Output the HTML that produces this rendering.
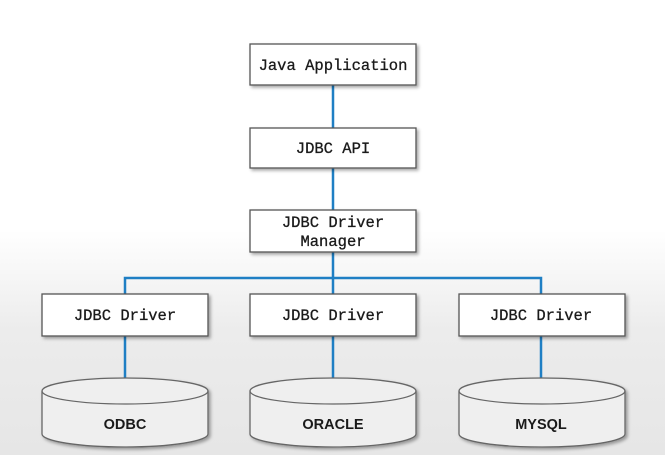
<!DOCTYPE html>
<html><head><style>
html,body{margin:0;padding:0}
body{width:665px;height:455px;overflow:hidden;background:linear-gradient(#ffffff 0px,#ffffff 230px,#ececec 330px,#e6e6e6 455px);}
</style></head><body>
<svg width="665" height="455" xmlns="http://www.w3.org/2000/svg">
<defs>
<filter id="sh" x="-10%" y="-10%" width="130%" height="140%"><feDropShadow dx="2" dy="2" stdDeviation="1.5" flood-color="#000" flood-opacity="0.35"/></filter>
</defs>
<g stroke="#1f7fc4" stroke-width="2.5" fill="none">
<line x1="333" y1="85" x2="333" y2="128"/>
<line x1="333" y1="168" x2="333" y2="210"/>
<line x1="333" y1="252" x2="333" y2="294"/>
<polyline points="125,294 125,278 541,278 541,294"/>
<line x1="125" y1="336" x2="125" y2="385"/>
<line x1="333" y1="336" x2="333" y2="385"/>
<line x1="541" y1="336" x2="541" y2="385"/>
</g>
<g fill="#fff" stroke="#555" stroke-width="1.3" filter="url(#sh)">
<rect x="250" y="44" width="166" height="41"/>
<rect x="250" y="128" width="166" height="40"/>
<rect x="250" y="210" width="166" height="42"/>
<rect x="42" y="294" width="166" height="42"/>
<rect x="250" y="294" width="166" height="42"/>
<rect x="459" y="294" width="166" height="42"/>
</g>
<g font-family="Liberation Mono, monospace" font-size="15.5" fill="#1a1a1a" text-anchor="middle" stroke="#1a1a1a" stroke-width="0.3">
<text x="333" y="70">Java Application</text>
<text x="333" y="153">JDBC API</text>
<text x="333" y="227">JDBC Driver</text>
<text x="333" y="246">Manager</text>
<text x="125" y="320">JDBC Driver</text>
<text x="333" y="320">JDBC Driver</text>
<text x="541" y="320">JDBC Driver</text>
</g>
<g fill="#efefef" stroke="#666" stroke-width="1.3" filter="url(#sh)">
<path d="M42,391 L42,434 A83,13 0 0 0 208,434 L208,391 A83,13 0 0 0 42,391 Z"/>
<path d="M250,391 L250,434 A83,13 0 0 0 416,434 L416,391 A83,13 0 0 0 250,391 Z"/>
<path d="M459,391 L459,434 A83,13 0 0 0 625,434 L625,391 A83,13 0 0 0 459,391 Z"/>
</g>
<g fill="none" stroke="#666" stroke-width="1.2">
<path d="M42,391 A83,13 0 0 0 208,391"/>
<path d="M250,391 A83,13 0 0 0 416,391"/>
<path d="M459,391 A83,13 0 0 0 625,391"/>
</g>
<g font-family="Liberation Sans, sans-serif" font-size="14.5" font-weight="bold" fill="#1a1a1a" text-anchor="middle">
<text x="125" y="429">ODBC</text>
<text x="333" y="429">ORACLE</text>
<text x="541" y="429">MYSQL</text>
</g>
</svg>
</body></html>
